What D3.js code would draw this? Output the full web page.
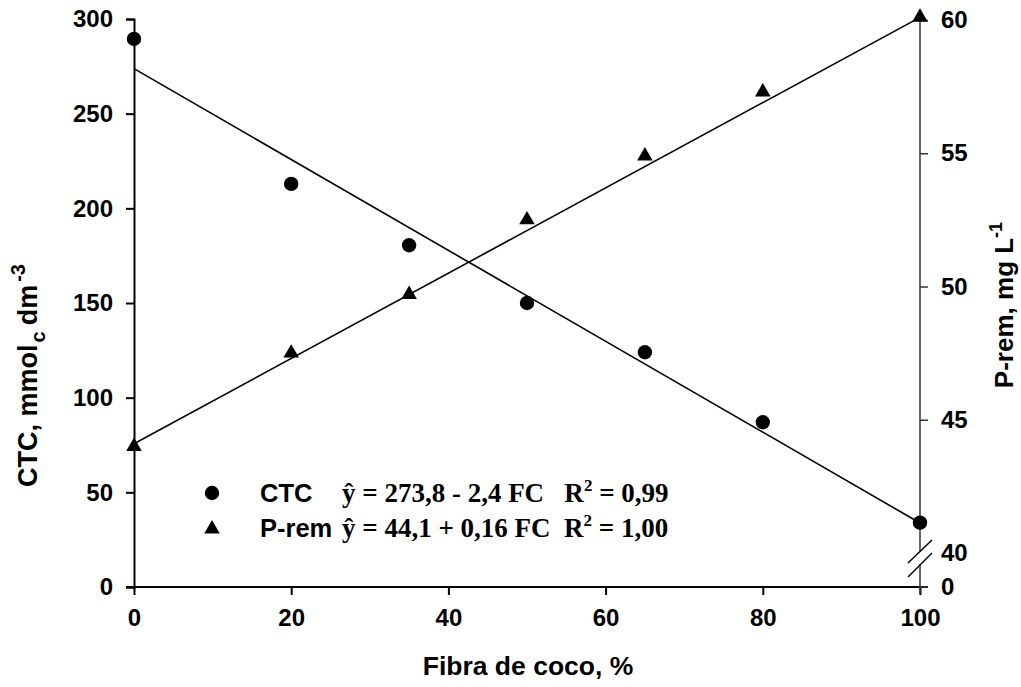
<!DOCTYPE html>
<html>
<head>
<meta charset="utf-8">
<script src="https://cdn.jsdelivr.net/npm/d3@7"></script>
<style>
  body { margin: 0; background: #fff; }
  text { font-family: "Liberation Sans", Arial, sans-serif; font-weight: bold; fill: #000; }
</style>
</head>
<body>
<script>
// fibra de coco (%)
const fibra = [0, 20, 35, 50, 65, 80, 100];
// CTC, mmolc dm-3 (left axis)
const ctc = [289.5, 212.9, 180.5, 150, 124, 87, 34];
// P-rem, mg L-1 (right axis)
const prem = [44.0, 47.5, 49.7, 52.5, 54.9, 57.3, 60.1];
// fitted lines
const ctcFit = {a: 273.8, b: -2.4};
const premFit = {a: 44.1, b: 0.16};
const xTicks = [0, 20, 40, 60, 80, 100];
const yTicks = [0, 50, 100, 150, 200, 250, 300];
const y2Ticks = [40, 45, 50, 55, 60];

function main() {
  const width = 1021, height = 687;
  const svg = d3.select("body").append("svg")
    .attr("width", width)
    .attr("height", height);

  const x = d3.scaleLinear().domain([0, 100]).range([134, 920]);
  const y = d3.scaleLinear().domain([0, 300]).range([587, 19]);
  const y2 = d3.scaleLinear().domain([40, 60]).range([553, 20]);

  // left axis
  const gy = svg.append("g")
    .attr("transform", "translate(134,0)")
    .call(d3.axisLeft(y).tickValues(yTicks).tickSize(8).tickPadding(13));
  // bottom axis
  const gx = svg.append("g")
    .attr("transform", "translate(0,587)")
    .call(d3.axisBottom(x).tickValues(xTicks).tickSize(8).tickPadding(14));
  [gx, gy].forEach(g => {
    g.select(".domain").attr("stroke", "#000").attr("stroke-width", 2);
    g.selectAll(".tick line").attr("stroke", "#000").attr("stroke-width", 2);
    g.selectAll("text").attr("font-size", 24).attr("fill", "#000")
      .style("font-family", "Liberation Sans, Arial, sans-serif").style("font-weight", "bold");
  });
  gx.select(".domain").attr("d", "M126,0H928");

  // right axis (broken)
  const gr = svg.append("g")
    .attr("transform", "translate(920,0)")
    .call(d3.axisRight(y2).tickValues(y2Ticks).tickSize(8).tickPadding(13));
  gr.select(".domain").remove();
  gr.selectAll(".tick line").attr("stroke", "#333").attr("stroke-width", 1.5)
    .filter(d => d === 40).remove();
  gr.selectAll("text").attr("font-size", 24).attr("fill", "#000")
    .style("font-family", "Liberation Sans, Arial, sans-serif").style("font-weight", "bold");
  // zero label on right
  const zero = gr.append("g").attr("transform", "translate(0,587)");
  zero.append("line").attr("x2", 8).attr("stroke", "#333").attr("stroke-width", 1.5);
  zero.append("text").attr("x", 21).attr("dy", "0.32em").attr("font-size", 24)
    .attr("fill", "#000").text("0");

  const line = d3.line();
  const axR = svg.append("g").attr("stroke", "#333").attr("stroke-width", 1.5).attr("fill", "none");
  axR.append("path").attr("d", line([[920, 20], [920, 552]]));
  axR.append("path").attr("d", line([[920, 564], [920, 594]]));
  axR.append("path").attr("stroke", "#000").attr("d", line([[908, 563], [932, 540]]));
  axR.append("path").attr("stroke", "#000").attr("d", line([[908, 577], [932, 553]]));

  // regression lines
  svg.append("path")
    .attr("fill", "none").attr("stroke", "#000").attr("stroke-width", 1.6)
    .attr("d", line([0, 100].map(d => [x(d), y(ctcFit.a + ctcFit.b * d)])));
  svg.append("path")
    .attr("fill", "none").attr("stroke", "#000").attr("stroke-width", 1.6)
    .attr("d", line([0, 100].map(d => [x(d), y2(premFit.a + premFit.b * d)])));

  // points
  const circ = d3.symbol().type(d3.symbolCircle).size(Math.PI * 7.2 * 7.2);
  const tri = d3.symbol().type(d3.symbolTriangle).size(105);
  svg.append("g").selectAll("path")
    .data(fibra)
    .join("path")
    .attr("d", circ)
    .attr("transform", (d, i) => `translate(${x(d)},${y(ctc[i])})`);
  svg.append("g").selectAll("path")
    .data(fibra)
    .join("path")
    .attr("d", tri)
    .attr("transform", (d, i) => `translate(${x(d)},${y2(prem[i])})`);

  // legend
  const leg = svg.append("g");
  leg.append("path").attr("d", circ).attr("transform", "translate(212,493)");
  leg.append("path").attr("d", tri).attr("transform", "translate(212,529)");
  leg.append("text").attr("x", 260).attr("y", 502).attr("font-size", 25.5).text("CTC");
  leg.append("text").attr("x", 260).attr("y", 537).attr("font-size", 25.5).text("P-rem");
  const eq = [
    {y: 502, a: "ŷ = 273,8 - 2,4 FC   R", b: " = 0,99"},
    {y: 537, a: "ŷ = 44,1 + 0,16 FC  R", b: " = 1,00"}
  ];
  eq.forEach(e => {
    const t = leg.append("text").attr("x", 342).attr("y", e.y)
      .attr("font-size", 27).attr("xml:space", "preserve")
      .style("font-family", "Liberation Serif, Times New Roman, serif");
    t.append("tspan").text(e.a);
    t.append("tspan").attr("dy", -11).attr("font-size", 17).text("2");
    t.append("tspan").attr("dy", 11).text(e.b);
  });

  // axis titles
  svg.append("text")
    .attr("x", 528).attr("y", 675).attr("text-anchor", "middle")
    .attr("font-size", 26.5).text("Fibra de coco, %");

  const yl = svg.append("text")
    .attr("transform", "translate(37,487) rotate(-90)")
    .attr("font-size", 27);
  yl.append("tspan").text("CTC, mmol");
  yl.append("tspan").attr("dx", 2).attr("dy", 8).attr("font-size", 20).text("c");
  yl.append("tspan").attr("dx", 6).attr("dy", -8).text("dm");
  yl.append("tspan").attr("dx", 3).attr("dy", -12).attr("font-size", 20).text("-3");

  const yr = svg.append("text")
    .attr("transform", "translate(1013,305) rotate(-90)")
    .attr("text-anchor", "middle").attr("font-size", 26);
  yr.append("tspan").text("P-rem, mg L");
  yr.append("tspan").attr("dy", -11).attr("font-size", 18).text("-1");
}

window.addEventListener("load", main);
</script>
</body>
</html>
